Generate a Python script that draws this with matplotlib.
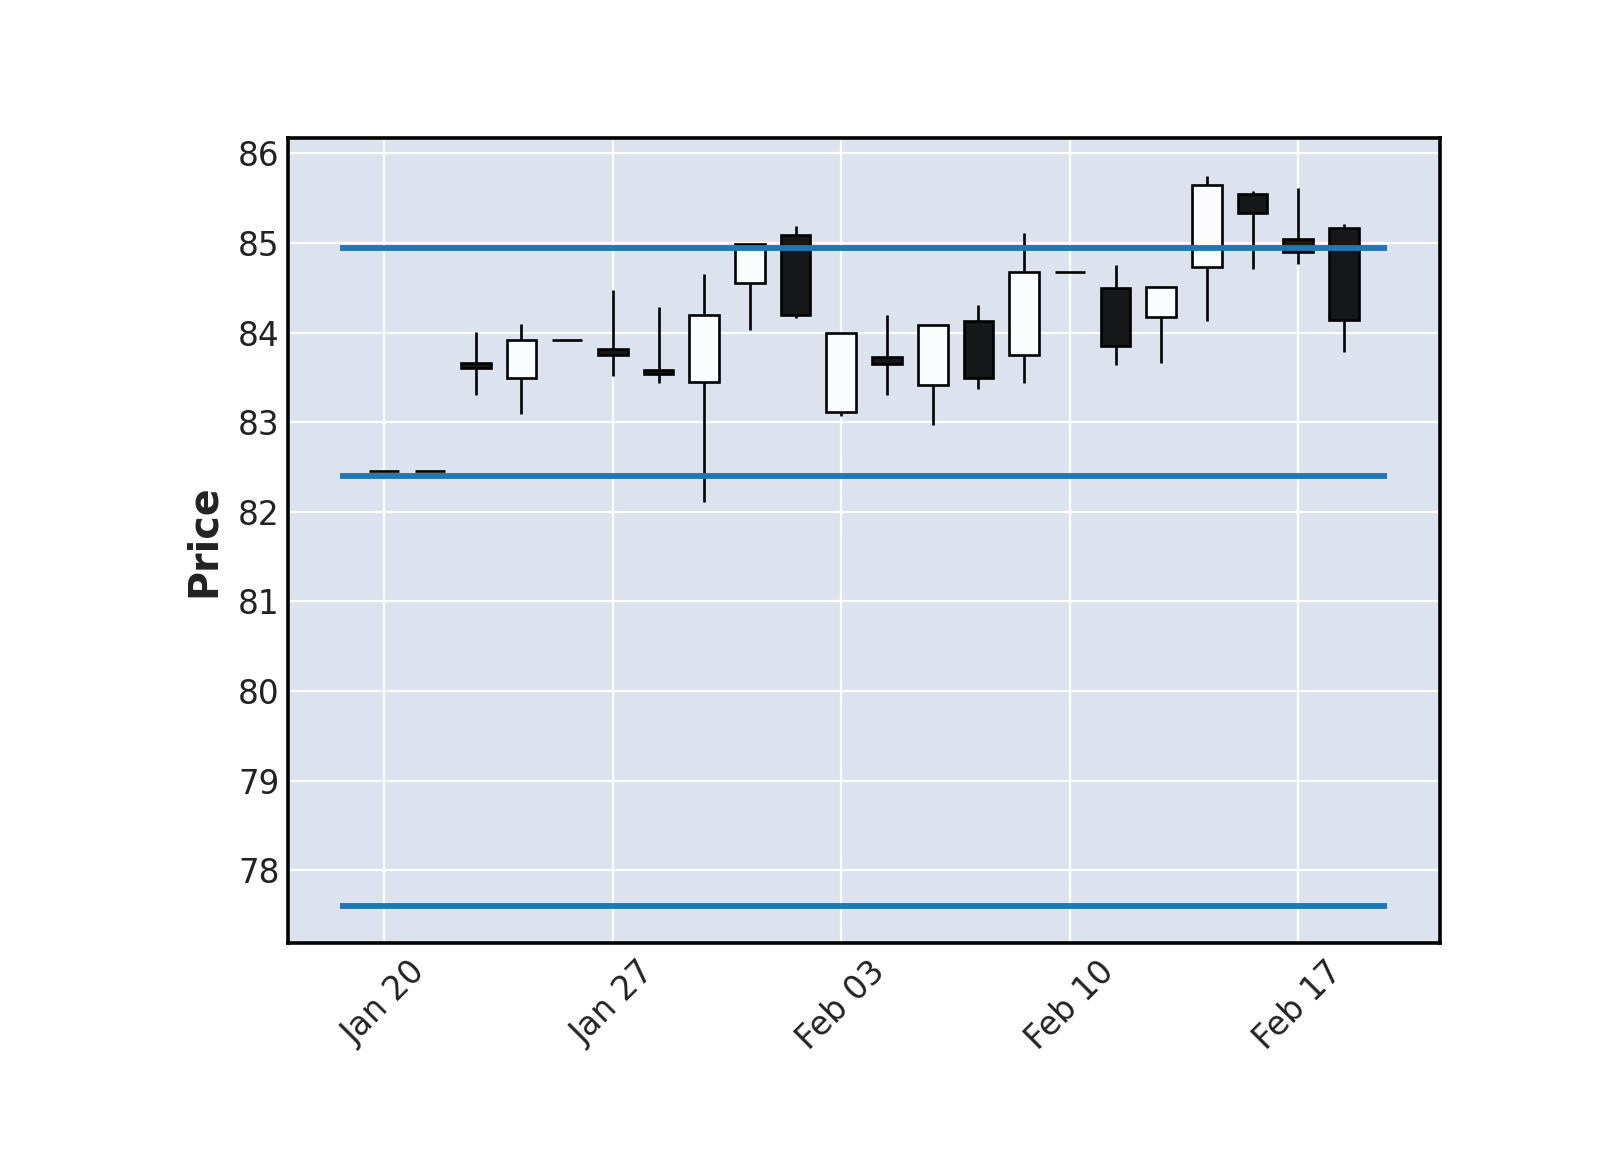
import matplotlib
matplotlib.use("Agg")
import matplotlib.pyplot as plt
from matplotlib.ticker import FixedLocator, FuncFormatter
import numpy as np

dates = ["Jan 20", "Jan 21", "Jan 22", "Jan 23", "Jan 24",
         "Jan 27", "Jan 28", "Jan 29", "Jan 30", "Jan 31",
         "Feb 03", "Feb 04", "Feb 05", "Feb 06", "Feb 07",
         "Feb 10", "Feb 11", "Feb 12", "Feb 13", "Feb 14",
         "Feb 17", "Feb 18"]
opens = [82.45, 82.45, 83.66, 83.49, 83.92, 83.82, 83.58, 83.45, 84.55, 85.09,
         83.11, 83.73, 83.41, 84.13, 83.75, 84.68, 84.50, 84.17, 84.73, 85.55,
         85.04, 85.17]
highs = [82.45, 82.45, 84.01, 84.10, 83.92, 84.47, 84.29, 84.65, 84.99, 85.19,
         84.00, 84.20, 84.08, 84.31, 85.11, 84.68, 84.75, 84.51, 85.75, 85.58,
         85.61, 85.21]
lows = [82.45, 82.45, 83.30, 83.09, 83.92, 83.52, 83.44, 82.11, 84.03, 84.16,
        83.07, 83.30, 82.97, 83.37, 83.44, 84.68, 83.64, 83.66, 84.13, 84.71,
        84.76, 83.78]
closes = [82.45, 82.45, 83.60, 83.92, 83.92, 83.75, 83.54, 84.20, 84.99, 84.20,
          84.00, 83.65, 84.08, 83.49, 84.68, 84.68, 83.85, 84.51, 85.65, 85.33,
          84.90, 84.14]
hline_levels = [84.94, 82.405, 77.60]
tick_idx = [0, 5, 10, 15, 20]

up_color = "#fbfcfe"
down_color = "#161719"
bg = "#dce2ee"

fig = plt.figure(figsize=(16, 11.5), dpi=100)
ax = fig.add_axes([0.18, 0.18, 0.72, 0.70])
ax.set_facecolor(bg)

x = np.arange(len(dates))
o = np.array(opens); c = np.array(closes)
h = np.array(highs); l = np.array(lows)

ax.vlines(x, l, h, color="black", linewidth=1.9, zorder=3)
colors = [up_color if cc >= oo else down_color for oo, cc in zip(o, c)]
ax.bar(x, np.abs(c - o), bottom=np.minimum(o, c), width=0.65,
       color=colors, edgecolor="black", linewidth=1.9, zorder=4)

ax.hlines(hline_levels, -0.97, 21.95, color="#1f77b4", linewidth=4.2, zorder=5)

ax.set_xlim(-2.107, 23.1)
ax.set_ylim(77.19, 86.17)
ax.set_yticks([78, 79, 80, 81, 82, 83, 84, 85, 86])
ax.xaxis.set_major_locator(FixedLocator(tick_idx))
ax.xaxis.set_major_formatter(FuncFormatter(lambda v, p: dates[int(round(v))] if 0 <= int(round(v)) < len(dates) else ""))

ax.grid(True, color="white", linewidth=1.6, zorder=0)
ax.set_axisbelow(True)
ax.tick_params(axis="both", length=0, labelsize=23.5, labelcolor="#222222")
ax.tick_params(axis="x", pad=9)
ax.tick_params(axis="y", pad=6)
for lab in ax.get_xticklabels():
    lab.set_rotation(45)
for s in ax.spines.values():
    s.set_linewidth(2.6)
    s.set_color("black")

ax.set_ylabel("Price", fontsize=28.5, fontweight="bold", color="#222222", labelpad=10)

fig.savefig("out.png", dpi=100, facecolor="white")
